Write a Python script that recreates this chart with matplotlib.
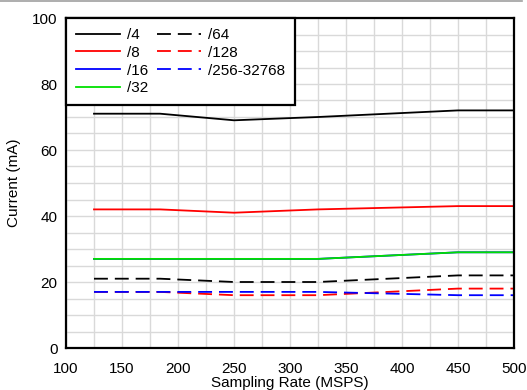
import matplotlib
matplotlib.use("Agg")
import matplotlib.pyplot as plt
from matplotlib.lines import Line2D

# D A T A ----------------------------------------------------------
rate = [125, 184, 250, 325, 450, 500]

div4 = [71, 71, 69, 70, 72, 72]
div8 = [42, 42, 41, 42, 43, 43]
div16 = [27, 27, 27, 27, 29, 29]
div32 = [27, 27, 27, 27, 29, 29]
div64 = [21, 21, 20, 20, 22, 22]
div128 = [17, 17, 16, 16, 18, 18]
div256 = [17, 17, 17, 17, 16, 16]

labels = ['/4', '/8', '/16', '/32', '/64', '/128', '/256-32768']

# P L O T ----------------------------------------------------------
plt.rcParams['font.family'] = ['Liberation Sans', 'DejaVu Sans']
plt.rcParams['font.size'] = 11
plt.rcParams['lines.scale_dashes'] = False

fig = plt.figure(figsize=(5.27, 3.9), dpi=100)
ax = fig.add_axes([66 / 527, 1 - 348 / 390, (514 - 66) / 527, (348 - 18) / 390])

lw = 1.3
dash = (10, 5)
ax.plot(rate, div4, color='black', lw=lw)
ax.plot(rate, div8, color='#ff0000', lw=lw)
ax.plot(rate, div16, color='#0000ff', lw=lw)
ax.plot(rate, div32, color='#00e000', lw=lw)
ax.plot(rate, div64, color='black', lw=lw, dashes=dash)
ax.plot(rate, div128, color='#ff0000', lw=lw, dashes=dash)
ax.plot(rate, div256, color='#0000ff', lw=lw, dashes=dash)

ax.set_xlim(100, 500)
ax.set_ylim(0, 100)
ax.set_xticks(range(100, 501, 50))
ax.set_xticks(range(100, 501, 25), minor=True)
ax.set_yticks(range(0, 101, 20))
ax.set_yticks(range(0, 101, 5), minor=True)
ax.grid(True, which='both', color='#d9d9d9', lw=1)
ax.set_axisbelow(True)
ax.tick_params(which='both', length=0, labelsize=11)
ax.tick_params(axis='x', pad=10)
ax.tick_params(axis='y', pad=6)

for s in ax.spines.values():
    s.set_linewidth(1.6)

ax.set_xlabel('Sampling Rate (MSPS)', labelpad=0)
ax.set_ylabel('Current (mA)', labelpad=8)

# legend: column order /4 /8 /16 /32 | /64 /128 /256
handles = [
    Line2D([], [], color='black', lw=lw),
    Line2D([], [], color='#ff0000', lw=lw),
    Line2D([], [], color='#0000ff', lw=lw),
    Line2D([], [], color='#00e000', lw=lw),
    Line2D([], [], color='black', lw=lw, dashes=dash),
    Line2D([], [], color='#ff0000', lw=lw, dashes=dash),
    Line2D([], [], color='#0000ff', lw=lw, dashes=dash),
]
leg = ax.legend(handles, labels, ncol=2, loc='upper left',
                bbox_to_anchor=(0, 1), borderaxespad=0, fancybox=False,
                edgecolor='black', framealpha=1, handlelength=2.9,
                handletextpad=0.45, columnspacing=0.55, labelspacing=0.25,
                borderpad=0.65, fontsize=11)
leg.get_frame().set_linewidth(1.6)

# thin rule across the top of the figure
fig.add_artist(Line2D([0, 0.99], [0.998, 0.998], color='#a0a0a0', lw=1.2,
                      transform=fig.transFigure))

fig.savefig('out.png', dpi=100)
